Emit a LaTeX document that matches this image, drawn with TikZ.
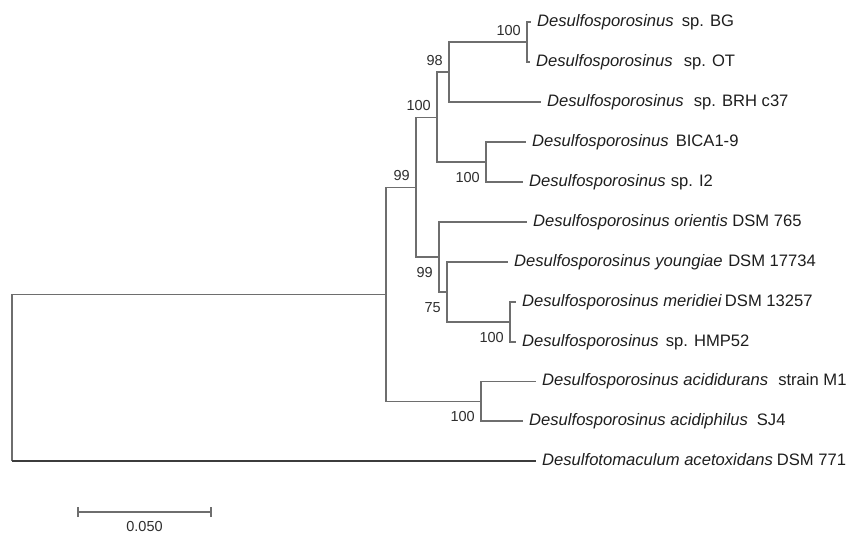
\documentclass[tikz,border=0pt]{standalone}
\usepackage{fontspec}
\setmainfont{Liberation Sans}
\definecolor{branch}{HTML}{6E6E6E}
\definecolor{outbr}{HTML}{3C3C3C}
\definecolor{txt}{HTML}{1E1E1E}
\definecolor{lbl}{HTML}{2E2E2E}
\begin{document}
\begin{tikzpicture}[x=1pt,y=-1pt,
  br/.style={draw=branch,line width=1.3pt},
  leaf/.style={anchor=west,inner xsep=6pt,inner ysep=0pt,text height=12pt,text depth=3.5pt,
    font=\fontsize{16.6}{19}\selectfont,text=txt},
  bsa/.style={anchor=south east,inner sep=0pt,font=\fontsize{14.5}{16}\selectfont,text=lbl},
  bsb/.style={anchor=north east,inner sep=0pt,font=\fontsize{14.5}{16}\selectfont,text=lbl}]
\useasboundingbox (0,0) rectangle (854,534);

% internal nodes
\coordinate (root) at (12,377.7);
\coordinate (n10) at (386,294.5);
\coordinate (n8) at (416,187.5);
\coordinate (n4) at (437,117.5);
\coordinate (n2) at (449,72);
\coordinate (n1) at (527,42);
\coordinate (n3) at (486,162);
\coordinate (n7) at (439,257);
\coordinate (n6) at (447,292);
\coordinate (n5) at (510,322);
\coordinate (n9) at (481,401.5);

% leaves
\node[leaf] (bg) at (531,22) {\itshape Desulfosporosinus\hspace{8pt}\upshape sp. BG};
\node[leaf] (ot) at (530,62) {\itshape Desulfosporosinus\hspace{11pt}\upshape sp. OT};
\node[leaf] (brh) at (541,102) {\itshape Desulfosporosinus\hspace{10pt}\upshape sp. BRH c37};
\node[leaf] (bica) at (526,142) {\itshape Desulfosporosinus\hspace{7pt}\upshape BICA1-9};
\node[leaf] (i2) at (523,182) {\itshape Desulfosporosinus\hspace{5pt}\upshape sp. I2};
\node[leaf] (ori) at (527,222) {\itshape Desulfosporosinus orientis\hspace{4.5pt}\upshape DSM 765};
\node[leaf] (you) at (508,262) {\itshape Desulfosporosinus youngiae\hspace{5.5pt}\upshape DSM 17734};
\node[leaf] (mer) at (516,302) {\itshape Desulfosporosinus meridiei\hspace{3.5pt}\upshape DSM 13257};
\node[leaf] (hmp) at (516,342) {\itshape Desulfosporosinus\hspace{7pt}\upshape sp. HMP52};
\node[leaf] (acd) at (536,381.5) {\itshape Desulfosporosinus acididurans\hspace{10pt}\upshape strain M1};
\node[leaf] (acp) at (523,421) {\itshape Desulfosporosinus acidiphilus\hspace{9pt}\upshape SJ4};
\node[leaf] (out) at (536,461) {\itshape Desulfotomaculum acetoxidans\hspace{4pt}\upshape DSM 771};

% branches
\draw[br] (n1) |- (bg.west);
\draw[br] (n1) |- (ot.west);
\draw[br] (n2) |- (n1);
\draw[br] (n2) |- (brh.west);
\draw[br] (n3) |- (bica.west);
\draw[br] (n3) |- (i2.west);
\draw[br] (n4) |- (n2);
\draw[br] (n4) |- (n3);
\draw[br] (n5) |- (mer.west);
\draw[br] (n5) |- (hmp.west);
\draw[br] (n6) |- (you.west);
\draw[br] (n6) |- (n5);
\draw[br] (n7) |- (ori.west);
\draw[br] (n7) |- (n6);
\draw[br] (n8) |- (n4);
\draw[br] (n8) |- (n7);
\draw[br] (n9) |- (acd.west);
\draw[br] (n9) |- (acp.west);
\draw[br] (n10) |- (n8);
\draw[br] (n10) |- (n9);
\draw[br] (root) |- (n10);
\draw[br] (root) -- (root |- out.west);
\draw[br,draw=outbr] (root |- out.west) -- (out.west);

% bootstrap values
\node[bsa] (b1) at ([shift={(-6,-6.3)}]n1) {100};
\node[bsa] (b2) at ([shift={(-6,-6.3)}]n2) {98};
\node[bsa] (b4) at ([shift={(-6,-6.3)}]n4) {100};
\node[bsa] (b8) at ([shift={(-6,-6.3)}]n8) {99};
\node[bsb] (b3) at ([shift={(-6,10)}]n3) {100};
\node[bsb] (b7) at ([shift={(-6,10)}]n7) {99};
\node[bsb] (b6) at ([shift={(-6,10)}]n6) {75};
\node[bsb] (b5) at ([shift={(-6,10)}]n5) {100};
\node[bsb] (b9) at ([shift={(-6,10)}]n9) {100};

% scale bar
\coordinate (s1) at (78,512);
\coordinate (s2) at (211,512);
\draw[br,line width=1.2pt] (s1) -- (s2);
\draw[br,line width=1.2pt] ([yshift=-5pt]s1) -- ([yshift=5pt]s1);
\draw[br,line width=1.2pt] ([yshift=-5pt]s2) -- ([yshift=5pt]s2);
\node[font=\fontsize{14.5}{16}\selectfont,text=lbl,inner sep=0pt] (sl) at (144.5,526.5) {0.050};
\end{tikzpicture}
\end{document}
